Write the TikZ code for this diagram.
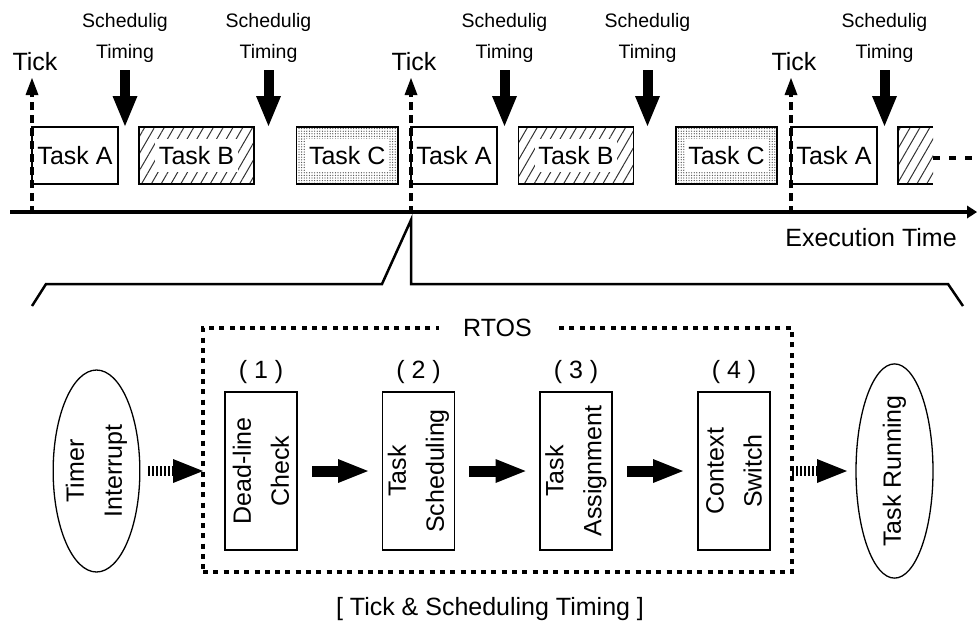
\documentclass[tikz,border=0pt]{standalone}
\usepackage{fontspec}
\setmainfont{Liberation Sans}
\usetikzlibrary{arrows.meta,patterns.meta,shapes.geometric}

\begin{document}
\begin{tikzpicture}[x=1pt,y=-1pt,
  every node/.style={inner sep=0pt,outer sep=0pt},
  big/.style={font=\fontsize{25}{38}\selectfont},
  small/.style={font=\fontsize{19.5}{24}\selectfont},
  thinline/.style={line width=1.3pt},
  axis/.style={line width=3.5pt,-{Triangle[length=10pt,width=13pt,line width=0pt]}},
  tickline/.style={line width=3.5pt,dash pattern=on 8pt off 5pt,-{Triangle[length=17pt,width=13pt,line width=0pt]}},
  schedarrow/.style={line width=10pt,-{Triangle[length=30pt,width=25pt,line width=0pt]}},
  flowarrow/.style={line width=11pt,-{Triangle[length=30pt,width=24pt,line width=0pt]}},
  dotarrow/.style={line width=10pt,dash pattern=on 2pt off 2pt,-{Triangle[length=30pt,width=24pt,line width=0pt]}},
  moreline/.style={line width=3.5pt,dash pattern=on 7pt off 9pt},
  bracket/.style={line width=2.5pt,line join=miter},
  taskbox/.style={draw,thinline,minimum height=57pt,big},
  tasktext/.style={fill=white,inner xsep=3.5pt,inner ysep=7pt,big},
  hatchbox/.style={taskbox,pattern={Lines[angle=60,distance=8.5pt,line width=1pt]},pattern color=black!80},
  dotbox/.style={taskbox,pattern={Dots[distance=2.6pt,radius=0.65pt]},pattern color=black!70},
  procbox/.style={draw,thinline,rotate=90,minimum width=158pt,minimum height=72pt,align=center,big},
  endpoint/.style={draw,ellipse,thinline,rotate=90,minimum width=202pt,align=center,big},
  rtosbox/.style={draw,line width=4pt,dash pattern=on 5pt off 5.3pt},
]
\useasboundingbox (0,0) rectangle (977,633);

% ---------- execution timeline ----------
\coordinate (axS) at (10,212);
\coordinate (axE) at (977,212);
\draw[axis] (axS) -- (axE);
\node[big,anchor=base] (xlabel) at (871,246) {Execution Time};

% tasks along the timeline
\node[taskbox,minimum width=86pt] (a1) at (75,155.5) {Task A};
\node[hatchbox,minimum width=115pt,label={[tasktext]center:Task B}] (b1) at (196.5,155.5) {};
\node[dotbox,minimum width=101.5pt,label={[tasktext]center:Task C}] (c1) at (347.25,155.5) {};
\node[taskbox,minimum width=86pt] (a2) at (454,155.5) {Task A};
\node[hatchbox,minimum width=115pt,label={[tasktext]center:Task B}] (b2) at (576,155.5) {};
\node[dotbox,minimum width=101pt,label={[tasktext]center:Task C}] (c2) at (726.5,155.5) {};
\node[taskbox,minimum width=86pt] (a3) at (834,155.5) {Task A};
\node[hatchbox,draw=none,minimum width=35pt] (b3) at (915.5,155.5) {};
\draw[thinline] (b3.north east) -- (b3.north west) -- (b3.south west) -- (b3.south east);
\coordinate (more) at (977,158);
\draw[moreline] (b3.east |- more) -- (more);

% timer ticks
\foreach \n/\x in {1/32,2/411,3/791}{
  \coordinate (t\n) at (\x,214);
  \coordinate (tt\n) at (\x,78);
  \draw[tickline] (t\n) -- (tt\n);
  \node[big,anchor=base] (tl\n) at (\x+3,70) {Tick};
}

% scheduling points
\foreach \n/\x in {1/125,2/268.5,3/504.5,4/647.5,5/884.5}{
  \node[small,anchor=base] (sa\n) at (\x,27) {Schedulig};
  \node[small,anchor=base] (sb\n) at (\x,58.5) {Timing};
  \coordinate (sp\n) at (\x,70);
  \coordinate (sq\n) at (\x,126);
  \draw[schedarrow] (sp\n) -- (sq\n);
}

% zoom bracket from the second tick
\draw[bracket] (32,306) -- (46,284) -- (382,284) -- (411,220) -- (411,284) -- (948,284) -- (963,306);

% ---------- RTOS processing chain ----------
\node[rtosbox,minimum width=589pt,minimum height=244pt] (rtos) at (497.5,450) {};
\node[fill=white,inner xsep=24pt,inner ysep=4pt,big] (rtoslbl) at (rtos.north) {RTOS};

\node[endpoint,minimum height=85pt] (timer) at (96.5,471) {Timer\\Interrupt};
\node[endpoint,minimum height=77pt] (run) at (894.5,471) {Task Running};

\node[procbox] (p1) at (261,471) {Dead-line\\Check};
\node[procbox] (p2) at (418.5,471) {Task\\Scheduling};
\node[procbox] (p3) at (576,471) {Task\\Assignment};
\node[procbox] (p4) at (734,471) {Context\\Switch};

\node[big,anchor=base] (n1) at (261,378) {( 1 )};
\node[big,anchor=base] (n2) at (418.5,378) {( 2 )};
\node[big,anchor=base] (n3) at (576,378) {( 3 )};
\node[big,anchor=base] (n4) at (734,378) {( 4 )};

\draw[dotarrow,shorten <=8pt] (timer) -- (rtos.west |- timer);
\draw[flowarrow,shorten <=15pt,shorten >=14.5pt] (p1) -- (p2);
\draw[flowarrow,shorten <=14.5pt,shorten >=14.5pt] (p2) -- (p3);
\draw[flowarrow,shorten <=15pt,shorten >=15pt] (p3) -- (p4);
\draw[dotarrow,shorten >=9pt] (rtos.east |- run) -- (run);

\node[big,anchor=base] (caption) at (490,615) {[ Tick \& Scheduling Timing ]};
\end{tikzpicture}
\end{document}
